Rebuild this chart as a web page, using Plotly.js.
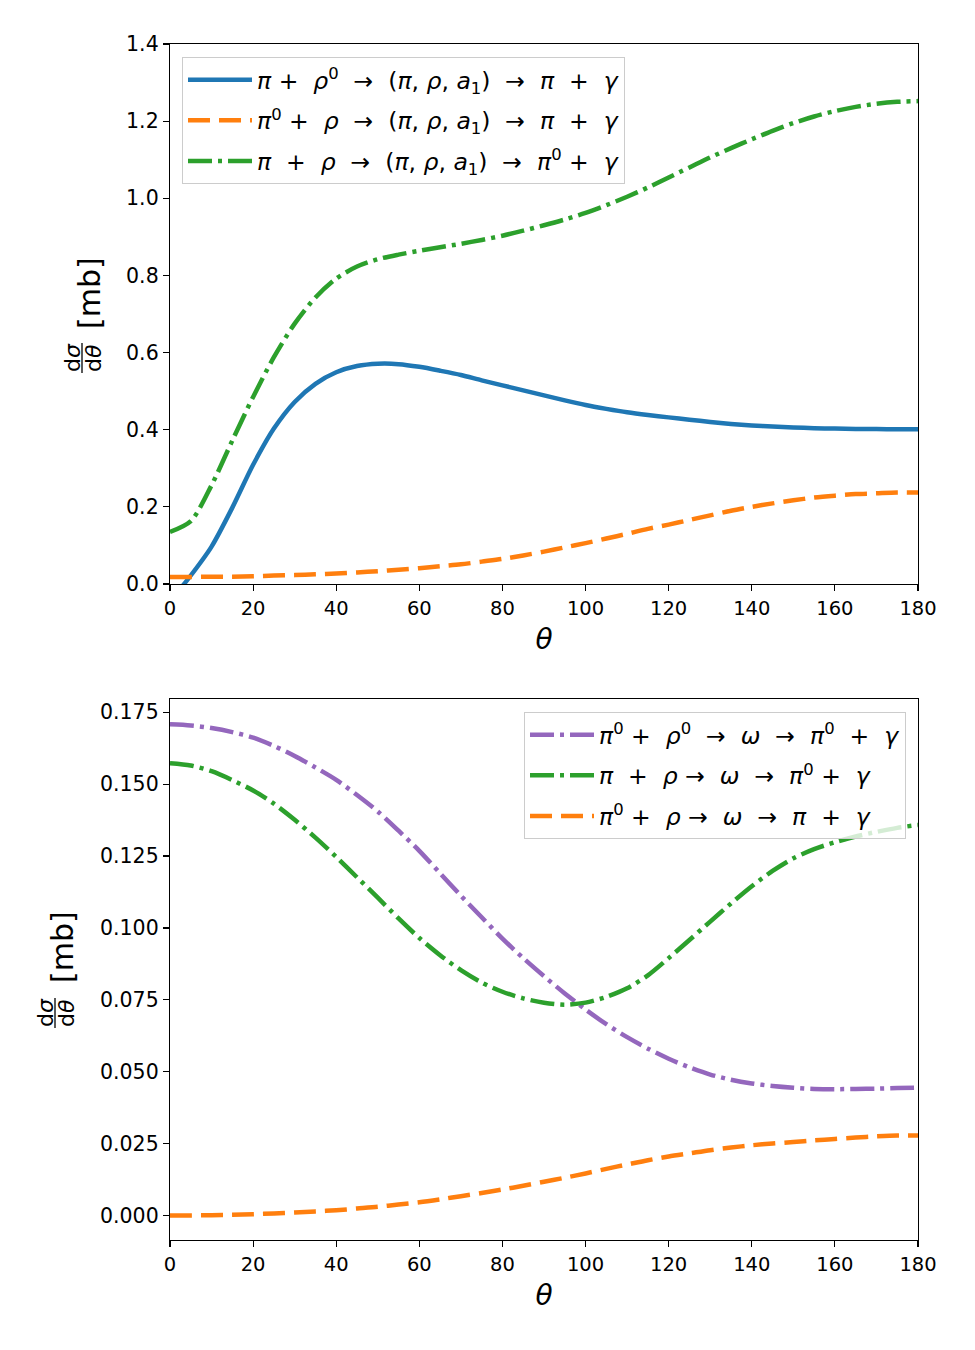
<!DOCTYPE html>
<html>
<head>
<meta charset="utf-8">
<script src="https://cdn.plot.ly/plotly-3.0.1.min.js"></script>
<style>html,body{margin:0;padding:0;background:#fff;}#chart{width:975px;height:1350px;}</style>
</head>
<body>
<div id="chart"></div>
<script>
// ---- data ----
const theta = [0, 5, 10, 15, 20, 25, 30, 35, 40, 45, 50, 55, 60, 65, 70, 75, 80, 85, 90, 95, 100, 105, 110, 115, 120, 125, 130, 135, 140, 145, 150, 155, 160, 165, 170, 175, 180];

// top panel: pi rho -> (pi, rho, a1) -> pi gamma
const blueTop = [-0.045, 0.022, 0.097, 0.198, 0.309, 0.403, 0.472, 0.519, 0.549, 0.565, 0.571, 0.570, 0.563, 0.553, 0.542, 0.528, 0.515, 0.502, 0.489, 0.476, 0.464, 0.454, 0.445, 0.438, 0.432, 0.426, 0.420, 0.415, 0.411, 0.408, 0.406, 0.404, 0.403, 0.402, 0.402, 0.401, 0.401];
const orangeTop = [0.018, 0.018, 0.019, 0.019, 0.020, 0.022, 0.023, 0.025, 0.027, 0.030, 0.033, 0.037, 0.041, 0.046, 0.051, 0.058, 0.065, 0.074, 0.084, 0.095, 0.106, 0.118, 0.130, 0.143, 0.154, 0.166, 0.178, 0.190, 0.200, 0.209, 0.217, 0.224, 0.229, 0.233, 0.235, 0.237, 0.237];
const greenTop = [0.135, 0.163, 0.256, 0.372, 0.485, 0.588, 0.675, 0.743, 0.792, 0.823, 0.842, 0.854, 0.864, 0.873, 0.882, 0.892, 0.903, 0.916, 0.930, 0.945, 0.962, 0.982, 1.004, 1.028, 1.054, 1.080, 1.106, 1.130, 1.153, 1.175, 1.195, 1.212, 1.226, 1.237, 1.245, 1.250, 1.252];

// bottom panel: ... -> omega -> ...
const purpleBot = [0.1708, 0.1704, 0.1695, 0.1681, 0.1662, 0.1633, 0.1598, 0.1558, 0.1515, 0.1462, 0.1405, 0.1338, 0.1268, 0.1190, 0.1112, 0.1037, 0.0963, 0.0895, 0.0832, 0.0772, 0.0716, 0.0665, 0.0620, 0.0580, 0.0545, 0.0515, 0.0490, 0.0472, 0.0459, 0.0450, 0.0444, 0.0440, 0.0439, 0.0440, 0.0441, 0.0443, 0.0444];
const greenBot = [0.1573, 0.1565, 0.1545, 0.1514, 0.1478, 0.1432, 0.1376, 0.1314, 0.1247, 0.1176, 0.1105, 0.1033, 0.0965, 0.0905, 0.0853, 0.0810, 0.0778, 0.0755, 0.0740, 0.0733, 0.0740, 0.0760, 0.0790, 0.0835, 0.0895, 0.0958, 0.1022, 0.1085, 0.1145, 0.1198, 0.1242, 0.1274, 0.1298, 0.1318, 0.1334, 0.1348, 0.1358];
const orangeBot = [0.0000, 0.0000, 0.0001, 0.0002, 0.0004, 0.0007, 0.0010, 0.0014, 0.0018, 0.0024, 0.0030, 0.0038, 0.0046, 0.0056, 0.0067, 0.0078, 0.0090, 0.0103, 0.0117, 0.0131, 0.0146, 0.0162, 0.0177, 0.0192, 0.0205, 0.0216, 0.0227, 0.0236, 0.0244, 0.0250, 0.0255, 0.0261, 0.0266, 0.0271, 0.0275, 0.0278, 0.0278];

const xTicks = [0, 20, 40, 60, 80, 100, 120, 140, 160, 180];

const nb = s => s.replace(/ /g, '\u00a0');
const namesTop = [
  nb('<i>π</i> +  <i>ρ</i><sup>0</sup>  →  (<i>π</i>, <i>ρ</i>, <i>a</i><sub>1</sub>)  →  <i>π</i>  +  <i>γ</i>'),
  nb('<i>π</i><sup>0</sup> +  <i>ρ</i>  →  (<i>π</i>, <i>ρ</i>, <i>a</i><sub>1</sub>)  →  <i>π</i>  +  <i>γ</i>'),
  nb('<i>π</i>  +  <i>ρ</i>  →  (<i>π</i>, <i>ρ</i>, <i>a</i><sub>1</sub>)  →  <i>π</i><sup>0</sup> +  <i>γ</i>')
];
const namesBot = [
  nb('<i>π</i><sup>0</sup> +  <i>ρ</i><sup>0</sup>  →  <i>ω</i>  →  <i>π</i><sup>0</sup>  +  <i>γ</i>'),
  nb('<i>π</i>  +  <i>ρ</i> →  <i>ω</i>  →  <i>π</i><sup>0</sup> +  <i>γ</i>'),
  nb('<i>π</i><sup>0</sup> +  <i>ρ</i> →  <i>ω</i>  →  <i>π</i>  +  <i>γ</i>')
];

const C = {blue: '#1f77b4', orange: '#ff7f0e', green: '#2ca02c', purple: '#9467bd'};
const LW = 4.5;
const DASH = '22px,9px';
const DASHDOT = '24px,6px,4px,6px';

const traces = [
  {x: theta, y: blueTop, name: namesTop[0], line: {color: C.blue, width: LW, shape: 'spline', smoothing: 0.8}, xaxis: 'x', yaxis: 'y', legend: 'legend', legendgroup: 'a'},
  {x: theta, y: orangeTop, name: namesTop[1], line: {color: C.orange, width: LW, dash: DASH, shape: 'spline', smoothing: 0.8}, xaxis: 'x', yaxis: 'y', legend: 'legend', legendgroup: 'b'},
  {x: theta, y: greenTop, name: namesTop[2], line: {color: C.green, width: LW, dash: DASHDOT, shape: 'spline', smoothing: 0.8}, xaxis: 'x', yaxis: 'y', legend: 'legend', legendgroup: 'c'},
  {x: theta, y: purpleBot, name: namesBot[0], line: {color: C.purple, width: LW, dash: DASHDOT, shape: 'spline', smoothing: 0.8}, xaxis: 'x2', yaxis: 'y2', legend: 'legend2', legendgroup: 'd'},
  {x: theta, y: greenBot, name: namesBot[1], line: {color: C.green, width: LW, dash: DASHDOT, shape: 'spline', smoothing: 0.8}, xaxis: 'x2', yaxis: 'y2', legend: 'legend2', legendgroup: 'e'},
  {x: theta, y: orangeBot, name: namesBot[2], line: {color: C.orange, width: LW, dash: DASH, shape: 'spline', smoothing: 0.8}, xaxis: 'x2', yaxis: 'y2', legend: 'legend2', legendgroup: 'f'}
].map(t => Object.assign({type: 'scatter', mode: 'lines', hoverinfo: 'skip'}, t));

const FONT = 'DejaVu Sans, sans-serif';
const axisBase = {
  showline: true, linecolor: '#000', linewidth: 1.2, mirror: true,
  ticks: 'outside', ticklen: 6, tickwidth: 1.2, tickcolor: '#000',
  showgrid: false, zeroline: false,
  tickfont: {family: FONT, size: 20.5, color: '#000'}
};
const xAxis = Object.assign({}, axisBase, {
  range: [0, 180], tickvals: xTicks, ticktext: xTicks.map(String),
  tickfont: {family: FONT, size: 19.5, color: '#000'},
  title: {text: '<i>θ</i>', font: {family: FONT, size: 28, color: '#000'}, standoff: 10}
});
const legendBase = {
  bgcolor: 'rgba(255,255,255,0.8)', bordercolor: '#cccccc', borderwidth: 1,
  font: {family: FONT, size: 23.5, color: '#000'}, itemwidth: 64, tracegroupgap: 7,
  traceorder: 'grouped'
};

const lblFont = {family: FONT, size: 30, color: '#000'};
const fracFont = {family: FONT, size: 22, color: '#000'};
function px2x(p) { return (p - 170) / 748; }
function px2y(p) { return (1240 - p) / 1196; }
function ylabel(xc, yc, fracX, fracY) {
  return [
    {xref: 'paper', yref: 'paper', x: px2x(xc), y: px2y(yc), text: '[mb]', textangle: -90, showarrow: false, font: lblFont, xanchor: 'center', yanchor: 'middle'},
    {xref: 'paper', yref: 'paper', x: px2x(fracX - 10), y: px2y(fracY), text: 'd<i>σ</i>', textangle: -90, showarrow: false, font: fracFont, xanchor: 'center', yanchor: 'middle'},
    {xref: 'paper', yref: 'paper', x: px2x(fracX + 11), y: px2y(fracY), text: 'd<i>θ</i>', textangle: -90, showarrow: false, font: fracFont, xanchor: 'center', yanchor: 'middle'}
  ];
}
function fracBar(fracX, fracY) {
  return {type: 'line', xref: 'paper', yref: 'paper', x0: px2x(fracX), x1: px2x(fracX), y0: px2y(fracY - 15), y1: px2y(fracY + 15), line: {color: '#000', width: 1.3}};
}

const layout = {
  width: 975, height: 1350,
  margin: {l: 170, r: 57, t: 44, b: 110},
  paper_bgcolor: '#fff', plot_bgcolor: '#fff',
  font: {family: FONT, color: '#000'},
  showlegend: true, hovermode: false,
  xaxis: Object.assign({}, xAxis, {domain: [0, 1], anchor: 'y'}),
  yaxis: Object.assign({}, axisBase, {domain: [0.5485, 1], anchor: 'x', range: [0, 1.4], dtick: 0.2, tick0: 0, tickformat: '.1f'}),
  xaxis2: Object.assign({}, xAxis, {domain: [0, 1], anchor: 'y2'}),
  yaxis2: Object.assign({}, axisBase, {domain: [0, 0.4523], anchor: 'x2', range: [-0.00855, 0.1796], dtick: 0.025, tick0: 0, tickformat: '.3f'}),
  legend: Object.assign({}, legendBase, {x: px2x(182), y: px2y(57), xanchor: 'left', yanchor: 'top'}),
  legend2: Object.assign({}, legendBase, {x: px2x(906), y: px2y(712), xanchor: 'right', yanchor: 'top'}),
  annotations: [].concat(ylabel(89, 293, 82, 358), ylabel(62, 947, 55, 1013)),
  shapes: [fracBar(82, 358), fracBar(55, 1013)]
};

Plotly.newPlot('chart', traces, layout, {staticPlot: true, displayModeBar: false});
</script>
</body>
</html>
